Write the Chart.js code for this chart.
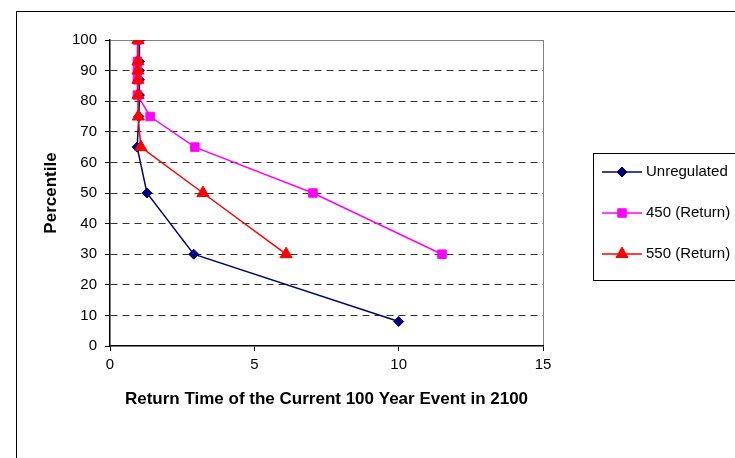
<!DOCTYPE html>
<html>
<head>
<meta charset="utf-8">
<script src="https://cdn.jsdelivr.net/npm/chart.js@4/dist/chart.umd.min.js"></script>
<style>
  html, body { margin: 0; padding: 0; background: #fff; }
  #wrap { position: relative; width: 735px; height: 458px; }
</style>
</head>
<body>
<div id="wrap"><canvas id="chart" width="735" height="458"></canvas></div>
<script>
const seriesNames = ['Unregulated', '450 (Return)', '550 (Return)'];

const unregX = [1.02, 1.02, 1.02, 1.02, 1.02, 1.0, 0.94, 1.28, 2.9, 10.0];
const unregY = [100, 93, 90, 87, 82, 75, 65, 50, 30, 8];

const ret450X = [0.95, 0.95, 0.95, 0.95, 0.95, 1.39, 2.94, 7.03, 11.5];
const ret450Y = [100, 93, 90, 87, 82, 75, 65, 50, 30];

const ret550X = [0.97, 0.97, 0.97, 0.97, 0.97, 0.98, 1.07, 3.22, 6.1];
const ret550Y = [100, 93, 90, 87, 82, 75, 65, 50, 30];

const yTicks = [0, 10, 20, 30, 40, 50, 60, 70, 80, 90, 100];
const xTicks = [0, 5, 10, 15];

const colors = ['#000080', '#ff00ff', '#ff0000'];
const markers = ['rectRot', 'rect', 'triangle'];
const markerSizes = [5, 6, 7];
const drawOrder = [2, 1, 0]; // red on top, as in the original

const fontFamily = '"Liberation Sans", Arial, sans-serif';

const toPoints = (xs, ys) => xs.map((x, i) => ({ x, y: ys[i] }));

const datasets = [
  toPoints(unregX, unregY),
  toPoints(ret450X, ret450Y),
  toPoints(ret550X, ret550Y),
].map((data, i) => ({
  label: seriesNames[i],
  data,
  order: drawOrder[i],
  borderColor: colors[i],
  backgroundColor: colors[i],
  borderWidth: 1.5,
  pointStyle: markers[i],
  pointRadius: markerSizes[i],
  pointBorderWidth: 1,
  showLine: true,
  tension: 0,
}));

// border round the whole chart and the boxed legend, like the Excel original
const framePlugin = {
  id: 'frame',
  beforeDraw(chart) {
    const ctx = chart.ctx;
    ctx.save();
    ctx.strokeStyle = '#000';
    ctx.lineWidth = 1;
    ctx.strokeRect(16.5, 11.5, 740, 460);
    ctx.restore();
  },
  afterDraw(chart) {
    const ctx = chart.ctx;
    ctx.save();
    ctx.fillStyle = '#fff';
    ctx.strokeStyle = '#000';
    ctx.lineWidth = 1;
    ctx.fillRect(593.5, 153.5, 150, 127);
    ctx.strokeRect(593.5, 153.5, 150, 127);
    const rows = [172, 213, 254];
    ctx.font = '15px ' + fontFamily;
    ctx.textBaseline = 'middle';
    chart.data.datasets.forEach((ds, i) => {
      const y = rows[i];
      ctx.strokeStyle = ds.borderColor;
      ctx.lineWidth = 1.5;
      ctx.beginPath();
      ctx.moveTo(602, y);
      ctx.lineTo(642, y);
      ctx.stroke();
      ctx.fillStyle = ds.backgroundColor;
      ctx.strokeStyle = ds.borderColor;
      ctx.lineWidth = 1;
      Chart.helpers.drawPoint(ctx, {
        pointStyle: ds.pointStyle, rotation: 0, borderWidth: 1, radius: ds.pointRadius,
      }, 622, y);
      ctx.fillStyle = '#000';
      ctx.fillText(ds.label, 646, y);
    });
    ctx.restore();
  },
};

new Chart(document.getElementById('chart'), {
  type: 'scatter',
  data: { datasets },
  options: {
    responsive: false,
    animation: false,
    layout: { padding: { left: 0, top: 40, right: 192, bottom: 0 } },
    plugins: { legend: { display: false }, tooltip: { enabled: false } },
    scales: {
      x: {
        type: 'linear',
        min: 0,
        max: 15,
        afterFit: s => { s.height = 112; },
        afterBuildTicks: s => { s.ticks = xTicks.map(v => ({ value: v })); },
        ticks: { color: '#000', font: { size: 15, family: fontFamily }, padding: 5 },
        grid: {
          color: c => (c.tick && c.tick.value === 15 ? '#808080' : 'rgba(0,0,0,0)'),
          tickColor: '#000',
          tickLength: 5,
          lineWidth: 1,
        },
        border: { color: '#000', width: 1.5 },
        title: {
          display: true,
          text: 'Return Time of the Current 100 Year Event in 2100',
          color: '#000',
          font: { size: 17, weight: 'bold', family: fontFamily },
          padding: { top: 0, bottom: 48 },
        },
      },
      y: {
        min: 0,
        max: 100,
        afterFit: s => { s.width = 110; },
        afterBuildTicks: s => { s.ticks = yTicks.map(v => ({ value: v })); },
        ticks: { color: '#000', font: { size: 15, family: fontFamily }, padding: 8 },
        grid: {
          color: c => {
            if (!c.tick) return '#000';
            if (c.tick.value === 0) return 'rgba(0,0,0,0)';
            if (c.tick.value === 100) return '#808080';
            return '#333';
          },
          tickColor: '#000',
          tickLength: 5,
          lineWidth: 1,
        },
        border: {
          color: '#000',
          width: 1.5,
          dash: c => (c.tick && c.tick.value === 100 ? [] : [7, 5]),
        },
        title: {
          display: true,
          text: 'Percentile',
          color: '#000',
          font: { size: 17, weight: 'bold', family: fontFamily },
          padding: { top: 41, bottom: 0 },
        },
      },
    },
  },
  plugins: [framePlugin],
});
</script>
</body>
</html>
